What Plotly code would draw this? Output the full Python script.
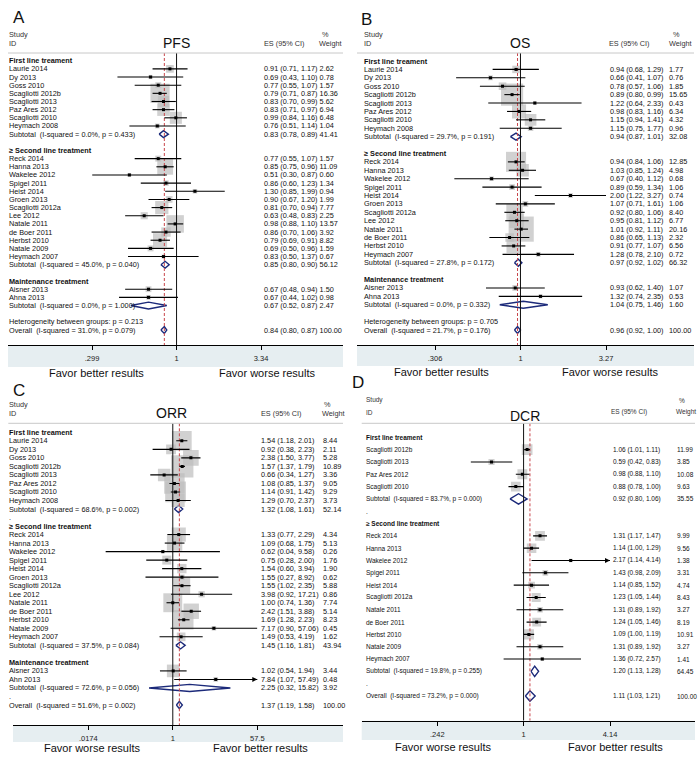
import math
import plotly.graph_objects as go

W, H = 700, 764
FONT = "Liberation Sans, Arial, sans-serif"

# ---------------- A: PFS
A_GROUPS = ["First line treament", "≥ Second line treatment", "Maintenance treatment"]
A_COUNTS = [8, 13, 2]
A_STUDY = ["Laurie 2014", "Dy 2013", "Goss 2010", "Scagliotti 2012b", "Scagliotti 2013",
           "Paz Ares 2012", "Scagliotti 2010", "Heymach 2008",
           "Reck 2014", "Hanna 2013", "Wakelee 2012", "Spigel 2011", "Heist 2014",
           "Groen 2013", "Scagliotti 2012a", "Lee 2012", "Natale 2011", "de Boer 2011",
           "Herbst 2010", "Natale 2009", "Heymach 2007",
           "Aisner 2013", "Ahna 2013"]
A_ES = [0.91, 0.69, 0.77, 0.79, 0.83, 0.83, 0.99, 0.76,
        0.77, 0.85, 0.51, 0.86, 1.30, 0.90, 0.81, 0.63, 0.98, 0.86, 0.79, 0.69, 0.83,
        0.67, 0.67]
A_LO = [0.71, 0.43, 0.55, 0.71, 0.70, 0.71, 0.84, 0.51,
        0.55, 0.75, 0.30, 0.60, 0.85, 0.67, 0.70, 0.48, 0.88, 0.70, 0.69, 0.50, 0.50,
        0.48, 0.44]
A_HI = [1.17, 1.10, 1.07, 0.87, 0.99, 0.97, 1.16, 1.14,
        1.07, 0.96, 0.87, 1.23, 1.99, 1.20, 0.94, 0.83, 1.10, 1.06, 0.91, 0.96, 1.37,
        0.94, 1.02]
A_WT = [2.62, 0.78, 1.57, 16.36, 5.62, 6.94, 6.48, 1.04,
        1.57, 11.09, 0.60, 1.34, 0.94, 1.99, 7.77, 2.25, 13.57, 3.92, 8.82, 1.59, 0.67,
        1.50, 0.98]
A_SUB_I2 = ["0.0%", "45.0%", "0.0%"]
A_SUB_P = ["0.433", "0.040", "1.000"]
A_SUB_ES = [0.83, 0.85, 0.67]
A_SUB_LO = [0.78, 0.80, 0.52]
A_SUB_HI = [0.89, 0.90, 0.87]
A_SUB_WT = [41.41, 56.12, 2.47]
A_OVERALL = [0.84, 0.80, 0.87, 100.00]
A_OV_STAT = ["31.0%", "0.079"]
A_HET_P = "0.213"
A_GAPS = ["", "", ""]
A_TICKS = [0.299, 1, 3.34]
A_TICKTEXT = [".299", "1", "3.34"]
A_FAVOR = ["Favor better results", "Favor worse results"]

# ---------------- B: OS
B_GROUPS = ["First line treament", "≥ Second line treatment", "Maintenance treatment"]
B_COUNTS = [8, 12, 2]
B_STUDY = ["Laurie 2014", "Dy 2013", "Goss 2010", "Scagliotti 2012b", "Scagliotti 2013",
           "Paz Ares 2012", "Scagliotti 2010", "Heymach 2008",
           "Reck 2014", "Hanna 2013", "Wakelee 2012", "Spigel 2011", "Heist 2014",
           "Groen 2013", "Scagliotti 2012a", "Lee 2012", "Natale 2011", "de Boer 2011",
           "Herbst 2010", "Heymach 2007",
           "Aisner 2013", "Ahna 2013"]
B_ES = [0.94, 0.66, 0.78, 0.89, 1.22, 0.98, 1.15, 1.15,
        0.94, 1.03, 0.67, 0.89, 2.00, 1.07, 0.92, 0.95, 1.01, 0.86, 0.91, 1.28,
        0.93, 1.32]
B_LO = [0.68, 0.41, 0.57, 0.80, 0.64, 0.83, 0.94, 0.75,
        0.84, 0.85, 0.40, 0.59, 1.22, 0.71, 0.80, 0.81, 0.92, 0.65, 0.77, 0.78,
        0.62, 0.74]
B_HI = [1.29, 1.07, 1.06, 0.99, 2.33, 1.16, 1.41, 1.77,
        1.06, 1.24, 1.12, 1.34, 3.27, 1.61, 1.06, 1.12, 1.11, 1.13, 1.07, 2.10,
        1.40, 2.35]
B_WT = [1.77, 0.76, 1.85, 15.65, 0.43, 6.34, 4.32, 0.96,
        12.85, 4.98, 0.68, 1.06, 0.74, 1.06, 8.40, 6.77, 20.16, 2.32, 6.56, 0.72,
        1.07, 0.53]
B_SUB_I2 = ["29.7%", "27.8%", "0.0%"]
B_SUB_P = ["0.191", "0.172", "0.332"]
B_SUB_ES = [0.94, 0.97, 1.04]
B_SUB_LO = [0.87, 0.92, 0.75]
B_SUB_HI = [1.01, 1.02, 1.46]
B_SUB_WT = [32.08, 66.32, 1.60]
B_OVERALL = [0.96, 0.92, 1.00, 100.00]
B_OV_STAT = ["21.7%", "0.176"]
B_HET_P = "0.705"
B_GAPS = ["", "", ""]
B_TICKS = [0.306, 1, 3.27]
B_TICKTEXT = [".306", "1", "3.27"]
B_FAVOR = ["Favor better results", "Favor worse results"]

# ---------------- C: ORR
C_GROUPS = ["First line treament", "≥ Second line treatment", "Maintenance treatment"]
C_COUNTS = [8, 13, 2]
C_STUDY = ["Laurie 2014", "Dy 2013", "Goss 2010", "Scagliotti 2012b", "Scagliotti 2013",
           "Paz Ares 2012", "Scagliotti 2010", "Heymach 2008",
           "Reck 2014", "Hanna 2013", "Wakelee 2012", "Spigel 2011", "Heist 2014",
           "Groen 2013", "Scagliotti 2012a", "Lee 2012", "Natale 2011", "de Boer 2011",
           "Herbst 2010", "Natale 2009", "Heymach 2007",
           "Aisner 2013", "Ahn 2013"]
C_ES = [1.54, 0.92, 2.38, 1.57, 0.66, 1.08, 1.14, 1.29,
        1.33, 1.09, 0.62, 0.75, 1.54, 1.55, 1.55, 3.98, 1.00, 2.42, 1.69, 7.17, 1.49,
        1.02, 7.84]
C_LO = [1.18, 0.38, 1.50, 1.37, 0.34, 0.85, 0.91, 0.70,
        0.77, 0.68, 0.04, 0.28, 0.60, 0.27, 1.02, 0.92, 0.74, 1.51, 1.28, 0.90, 0.53,
        0.54, 1.07]
C_HI = [2.01, 2.23, 3.77, 1.79, 1.27, 1.37, 1.42, 2.37,
        2.29, 1.75, 9.58, 2.00, 3.94, 8.92, 2.35, 17.21, 1.36, 3.88, 2.23, 57.06, 4.19,
        1.94, 57.49]
C_WT = [8.44, 2.11, 5.28, 10.89, 3.36, 9.05, 9.29, 3.73,
        4.34, 5.13, 0.26, 1.76, 1.90, 0.62, 5.88, 0.86, 7.74, 5.14, 8.23, 0.45, 1.62,
        3.44, 0.48]
C_SUB_I2 = ["68.6%", "37.5%", "72.6%"]
C_SUB_P = ["0.002", "0.084", "0.056"]
C_SUB_ES = [1.32, 1.45, 2.25]
C_SUB_LO = [1.08, 1.16, 0.32]
C_SUB_HI = [1.61, 1.81, 15.82]
C_SUB_WT = [52.14, 43.94, 3.92]
C_OVERALL = [1.37, 1.19, 1.58, 100.00]
C_OV_STAT = ["51.6%", "0.002"]
C_GAPS = [".", "", "."]
C_TICKS = [0.0174, 1, 57.5]
C_TICKTEXT = [".0174", "1", "57.5"]
C_FAVOR = ["Favor worse results", "Favor better results"]
C_ARROWS = ["Ahn 2013"]

# ---------------- D: DCR
D_GROUPS = ["First line treament", "≥ Second line treatment"]
D_COUNTS = [4, 11]
D_STUDY = ["Scagliotti 2012b", "Scagliotti 2013", "Paz Ares 2012", "Scagliotti 2010",
           "Reck 2014", "Hanna 2013", "Wakelee 2012", "Spigel 2011", "Heist 2014",
           "Scagliotti 2012a", "Natale 2011", "de Boer 2011", "Herbst 2010",
           "Natale 2009", "Heymach 2007"]
D_ES = [1.06, 0.59, 0.98, 0.88, 1.31, 1.14, 2.17, 1.43, 1.14, 1.23, 1.31, 1.24, 1.09, 1.31, 1.36]
D_LO = [1.01, 0.42, 0.88, 0.78, 1.17, 1.00, 1.14, 0.98, 0.85, 1.05, 0.89, 1.05, 1.00, 0.89, 0.72]
D_HI = [1.11, 0.83, 1.10, 1.00, 1.47, 1.29, 4.14, 2.09, 1.52, 1.44, 1.92, 1.46, 1.19, 1.92, 2.57]
D_WT = [11.99, 3.85, 10.08, 9.63, 9.99, 9.56, 1.38, 3.31, 4.74, 8.43, 3.27, 8.19, 10.91, 3.27, 1.41]
D_SUB_I2 = ["83.7%", "19.8%"]
D_SUB_P = ["0.000", "0.255"]
D_SUB_ES = [0.92, 1.20]
D_SUB_LO = [0.80, 1.13]
D_SUB_HI = [1.06, 1.28]
D_SUB_WT = [35.55, 64.45]
D_OVERALL = [1.11, 1.03, 1.21, 100.00]
D_OV_STAT = ["73.2%", "0.000"]
D_GAPS = [".", "."]
D_TICKS = [0.242, 1, 4.14]
D_TICKTEXT = [".242", "1", "4.14"]
D_FAVOR = ["Favor worse results", "Favor better results"]
D_ARROWS = ["Wakelee 2012"]


def build_rows(counts, gaps, het):
    rows = []
    s = 0
    for g, n in enumerate(counts):
        rows.append(("head", g))
        for _ in range(n):
            rows.append(("study", s))
            s += 1
        rows.append(("sub", g))
        rows.append(("gap", g))
    if het is not None:
        rows.append(("het", 0))
    rows.append(("overall", 0))
    return rows


def ci_text(es, lo, hi):
    return "%.2f (%.2f, %.2f)" % (es, lo, hi)


fig = go.Figure()
annots = []
shapes = []


def note(text, x, y, size, family=FONT, xanchor="left", yref="paper", color="#111"):
    annots.append(dict(text=text, x=x / W, y=(1 - y / H) if yref == "paper" else y,
                       xref="paper", yref=yref, xanchor=xanchor, yanchor="middle",
                       showarrow=False, borderpad=0,
                       font=dict(size=size, family=family, color=color)))


def add_panel(n, d, c):
    xa = "x" if n == 1 else "x%d" % n
    ya = "y" if n == 1 else "y%d" % n
    fam, fs = c["font"], c["fs"]
    rows = build_rows(d["counts"], d["gaps"], d.get("het"))
    last = len(rows) - 1
    sp = (c["row_last"] - c["row0"]) / last
    r_top = -(c["row0"] - c["top"]) / sp
    r_bot = last + (c["axis"] - c["row_last"]) / sp

    lt, ht = math.log10(d["ticks"][0]), math.log10(d["ticks"][-1])
    ppd = (c["x_hitick"] - c["x_lotick"]) / (ht - lt)
    x_one = c["x_lotick"] - lt * ppd
    xr = [(c["x_left"] - x_one) / ppd, (c["x_right"] - x_one) / ppd]

    bx, by, bs = [], [], []
    lx, ly = [], []
    for r, (kind, i) in enumerate(rows):
        if kind == "head":
            note("<b>%s</b>" % d["groups"][i], c["lab_x"], r, fs, fam, yref=ya)
        elif kind == "study":
            es, lo, hi, w = d["es"][i], d["lo"][i], d["hi"][i], d["wt"][i]
            bx.append(es); by.append(r); bs.append(c["k"] * math.sqrt(w))
            lx += [lo, hi, None]; ly += [r, r, None]
            note(d["study"][i], c["lab_x"], r, fs, fam, yref=ya)
            if c["wt_x"] is None:
                note(ci_text(es, lo, hi) + " %.2f" % w, c["es_x"], r, fs, fam, yref=ya)
            else:
                note(ci_text(es, lo, hi), c["es_x"], r, fs, fam, yref=ya)
                note("%.2f" % w, c["wt_x"], r, fs, fam, yref=ya)
            if d["study"][i] in d.get("arrows", []):
                annots.append(dict(text="", x=math.log10(hi), y=r, xref=xa, yref=ya,
                                   ax=-7, ay=0, showarrow=True, arrowhead=2, arrowsize=1,
                                   arrowwidth=1, arrowcolor="#000", standoff=0))
        elif kind in ("sub", "overall"):
            if kind == "sub":
                es, lo, hi, w = d["sub_es"][i], d["sub_lo"][i], d["sub_hi"][i], d["sub_wt"][i]
                lab = "Subtotal\u00a0 (I-squared = %s, p = %s)" % (d["sub_i2"][i], d["sub_p"][i])
            else:
                es, lo, hi, w = d["overall"]
                lab = "Overall\u00a0 (I-squared = %s, p = %s)" % tuple(d["ov_stat"])
            fig.add_trace(go.Scatter(
                x=[lo, es, hi, es, lo], y=[r, r - 0.42, r, r + 0.42, r],
                mode="lines", fill="toself", fillcolor="white",
                line=dict(color="#1c2a7a", width=1.4),
                xaxis=xa, yaxis=ya, hoverinfo="skip"))
            note(lab, c["lab_x"], r, fs, fam, yref=ya)
            if c["wt_x"] is None:
                note(ci_text(es, lo, hi) + " %.2f" % w, c["es_x"], r, fs, fam, yref=ya)
            else:
                note(ci_text(es, lo, hi), c["es_x"], r, fs, fam, yref=ya)
                note("%.2f" % w, c["wt_x"], r, fs, fam, yref=ya)
        elif kind == "gap":
            if d["gaps"][i]:
                note(d["gaps"][i], c["lab_x"], r, fs, fam, yref=ya)
        elif kind == "het":
            note("Heterogeneity between groups: p = %s" % d["het"], c["lab_x"], r, fs, fam, yref=ya)

    # grey weight boxes (drawn first)
    fig.add_trace(go.Scatter(x=bx, y=by, mode="markers", xaxis=xa, yaxis=ya,
                             marker=dict(symbol="square", size=bs, color="#bdbdbd",
                                         line=dict(width=0)), hoverinfo="skip"))
    # null line and overall effect line
    fig.add_trace(go.Scatter(x=[1, 1], y=[r_top, r_bot], mode="lines", xaxis=xa, yaxis=ya,
                             line=dict(color="#111", width=1), hoverinfo="skip"))
    ov = d["overall"][0]
    fig.add_trace(go.Scatter(x=[ov, ov], y=[r_top, r_bot], mode="lines", xaxis=xa, yaxis=ya,
                             line=dict(color="#c8464b", width=1, dash="3px,2px"),
                             hoverinfo="skip"))
    # confidence intervals and point estimates
    fig.add_trace(go.Scatter(x=lx, y=ly, mode="lines", xaxis=xa, yaxis=ya,
                             line=dict(color="#000", width=1.1), hoverinfo="skip"))
    fig.add_trace(go.Scatter(x=bx, y=by, mode="markers", xaxis=xa, yaxis=ya,
                             marker=dict(symbol="square", size=3, color="#000"),
                             hoverinfo="skip"))

    key = "xaxis" if n == 1 else "xaxis%d" % n
    ykey = "yaxis" if n == 1 else "yaxis%d" % n
    fig.update_layout({
        key: dict(type="log", range=xr, domain=[c["x_left"] / W, c["x_right"] / W],
                  anchor=ya, showline=True, linecolor="#000", linewidth=1,
                  ticks="outside", ticklen=4, tickcolor="#000",
                  tickvals=d["ticks"], ticktext=d["ticktext"], ticklabelstandoff=2,
                  tickfont=dict(size=7.5, family=fam, color="#222"),
                  showgrid=False, zeroline=False, fixedrange=True),
        ykey: dict(range=[r_bot, r_top], domain=[1 - c["axis"] / H, 1 - c["top"] / H],
                   anchor=xa, visible=False, showgrid=False, zeroline=False, fixedrange=True),
    })

    # axis band below, separator above
    shapes.append(dict(type="rect", xref="paper", yref="paper",
                       x0=c["x_left"] / W, x1=c["x_right"] / W,
                       y0=1 - c["band_bot"] / H, y1=1 - c["axis"] / H,
                       fillcolor="#e6eef1", line=dict(width=0), layer="below"))
    shapes.append(dict(type="line", xref="paper", yref="paper",
                       x0=min(c["lab_x"], c["x_left"]) / W, x1=c["x_right"] / W,
                       y0=1 - c["top"] / H, y1=1 - c["top"] / H,
                       line=dict(color="#c8c8c8", width=1)))

    # headers
    note("Study", c["lab_x"], c["study_y"], fs, fam, color="#333")
    note("ID", c["lab_x"], c["id_y"], fs, fam, color="#333")
    note("ES (95% CI)", c["esh_x"], c["id_y"], fs, fam, color="#333")
    note("%", c["pct_x"], c["study_y"], fs, fam, color="#333")
    note("Weight", c["wtlab_x"], c["id_y"], fs, fam, color="#333")
    note(c["title"], c["title_x"], c["title_y"], 14, FONT, xanchor="center")
    note(c["letter"], c["letter_xy"][0], c["letter_xy"][1], 17, FONT)
    note(d["favor"][0], c["favor_x"][0], c["favor_y"], 11, FONT, xanchor="center")
    note(d["favor"][1], c["favor_x"][1], c["favor_y"], 11, FONT, xanchor="center")


add_panel(1, dict(groups=A_GROUPS, counts=A_COUNTS, study=A_STUDY, es=A_ES, lo=A_LO, hi=A_HI,
                  wt=A_WT, sub_i2=A_SUB_I2, sub_p=A_SUB_P, sub_es=A_SUB_ES, sub_lo=A_SUB_LO,
                  sub_hi=A_SUB_HI, sub_wt=A_SUB_WT, overall=A_OVERALL, ov_stat=A_OV_STAT,
                  het=A_HET_P, gaps=A_GAPS, ticks=A_TICKS, ticktext=A_TICKTEXT, favor=A_FAVOR),
          dict(x_left=8, x_right=343, top=53, axis=345, row0=60.7, row_last=330,
               x_lotick=92, x_hitick=261, lab_x=8.3, es_x=263, wt_x=None, k=4.75,
               title="PFS", title_x=176.7, title_y=43.3, study_y=35, id_y=43.3,
               esh_x=263, pct_x=321, wtlab_x=318, letter="A", letter_xy=(12, 18),
               band_bot=367, favor_y=373, favor_x=(96.7, 266.7), font=FONT, fs=7.3))

add_panel(2, dict(groups=B_GROUPS, counts=B_COUNTS, study=B_STUDY, es=B_ES, lo=B_LO, hi=B_HI,
                  wt=B_WT, sub_i2=B_SUB_I2, sub_p=B_SUB_P, sub_es=B_SUB_ES, sub_lo=B_SUB_LO,
                  sub_hi=B_SUB_HI, sub_wt=B_SUB_WT, overall=B_OVERALL, ov_stat=B_OV_STAT,
                  het=B_HET_P, gaps=B_GAPS, ticks=B_TICKS, ticktext=B_TICKTEXT, favor=B_FAVOR),
          dict(x_left=357, x_right=694, top=53, axis=345, row0=61, row_last=330,
               x_lotick=435, x_hitick=606, lab_x=363.3, es_x=609, wt_x=668, k=5.6,
               title="OS", title_x=520, title_y=43.3, study_y=35, id_y=43.3,
               esh_x=608, pct_x=671.7, wtlab_x=668, letter="B", letter_xy=(360, 19),
               band_bot=366, favor_y=372, favor_x=(441.7, 610), font=FONT, fs=7.3))

add_panel(3, dict(groups=C_GROUPS, counts=C_COUNTS, study=C_STUDY, es=C_ES, lo=C_LO, hi=C_HI,
                  wt=C_WT, sub_i2=C_SUB_I2, sub_p=C_SUB_P, sub_es=C_SUB_ES, sub_lo=C_SUB_LO,
                  sub_hi=C_SUB_HI, sub_wt=C_SUB_WT, overall=C_OVERALL, ov_stat=C_OV_STAT,
                  het=None, gaps=C_GAPS, ticks=C_TICKS, ticktext=C_TICKTEXT, favor=C_FAVOR,
                  arrows=C_ARROWS),
          dict(x_left=13, x_right=343, top=423.3, axis=725, row0=432.3, row_last=705,
               x_lotick=88.3, x_hitick=257.3, lab_x=8.3, es_x=260, wt_x=321.7, k=6.8,
               title="ORR", title_x=171.7, title_y=413.3, study_y=404.5, id_y=413.8,
               esh_x=260, pct_x=322.7, wtlab_x=321, letter="C", letter_xy=(12, 390),
               band_bot=742, favor_y=748, favor_x=(91.7, 260), font=FONT, fs=7.3))

add_panel(4, dict(groups=D_GROUPS, counts=D_COUNTS, study=D_STUDY, es=D_ES, lo=D_LO, hi=D_HI,
                  wt=D_WT, sub_i2=D_SUB_I2, sub_p=D_SUB_P, sub_es=D_SUB_ES, sub_lo=D_SUB_LO,
                  sub_hi=D_SUB_HI, sub_wt=D_SUB_WT, overall=D_OVERALL, ov_stat=D_OV_STAT,
                  het=None, gaps=D_GAPS, ticks=D_TICKS, ticktext=D_TICKTEXT, favor=D_FAVOR,
                  arrows=D_ARROWS),
          dict(x_left=361.7, x_right=695, top=423.3, axis=720.7, row0=437.3, row_last=696,
               x_lotick=437.3, x_hitick=610, lab_x=365, es_x=612, wt_x=676, k=3.1,
               title="DCR", title_x=525, title_y=415.7, study_y=400, id_y=412.3,
               esh_x=610, pct_x=678, wtlab_x=675, letter="D", letter_xy=(351, 382),
               band_bot=740, favor_y=747, favor_x=(443, 615), font=FONT, fs=6.5))

fig.update_layout(width=W, height=H, margin=dict(l=0, r=0, t=0, b=0),
                  paper_bgcolor="white", plot_bgcolor="white", showlegend=False,
                  annotations=annots, shapes=shapes)
fig.write_html("out.html", config={"displayModeBar": False},
               post_script="document.body.style.margin='0';document.body.style.overflow='hidden';")
